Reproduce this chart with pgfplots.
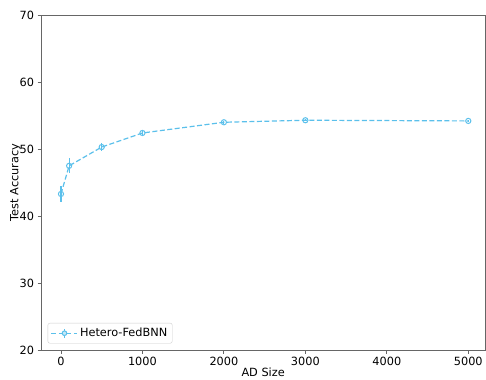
\documentclass[border=0pt]{standalone}
\usepackage{fontspec}
\setmainfont{DejaVu Sans}
\usepackage{pgfplots}
\pgfplotsset{compat=1.18}
\definecolor{hb}{HTML}{5BC0EB}
\begin{document}
\begin{tikzpicture}
\begin{axis}[
  scale only axis,
  width=444pt, height=335pt,
  xmin=-245, xmax=5208, ymin=20, ymax=70,
  xtick={0,1000,2000,3000,4000,5000},
  ytick={20,30,40,50,60,70},
  scaled x ticks=false,
  /pgf/number format/assume math mode=true,
  /pgf/number format/1000 sep={},
  tick label style={font=\fontsize{11.3}{13}\selectfont},
  label style={font=\fontsize{11.3}{13}\selectfont},
  xlabel={AD Size}, ylabel={Test Accuracy},
  xlabel style={yshift=5pt}, ylabel style={yshift=-8pt},
  tick align=outside, tick pos=left,
  major tick length=3.5pt,
  axis line style={black!60, line width=0.9pt},
  tick style={black!60, line width=0.8pt},
  legend style={font=\fontsize{11.3}{13}\selectfont, draw=black!20, rounded corners=2pt, inner sep=3pt, at={(0.015,0.02)}, anchor=south west},
  legend cell align=left,
]
\addplot[color=hb, dash pattern=on 5pt off 2.5pt, line width=1.2pt, mark=o, mark size=2.6pt,
  mark options={solid, fill=hb!35, line width=1pt},
  legend image code/.code={
    \draw[hb, dash pattern=on 5pt off 2.5pt, line width=1.2pt] (0pt,0pt) -- (26pt,0pt);
    \draw[hb, solid, line width=1.2pt] (13pt,-4.5pt) -- (13pt,4.5pt);
    \draw[hb, solid, line width=1pt, fill=hb!35] (13pt,0pt) circle (2.3pt);
  },
  error bars/.cd, y dir=both, y explicit,
  error bar style={solid, line width=1.2pt, hb}, error mark=none]
  coordinates {
  (0,43.3) +- (0,1.2)
  (100,47.5) +- (0,1.1)
  (500,50.3) +- (0,0.6)
  (1000,52.4) +- (0,0.4)
  (2000,54.0) +- (0,0.2)
  (3000,54.3) +- (0,0.15)
  (5000,54.2) +- (0,0.1)
  };
\addlegendentry{Hetero-FedBNN}
\end{axis}
\path ([yshift=15pt]current axis.north west);
\path ([xshift=-41pt]current axis.south west);
\end{tikzpicture}
\end{document}
